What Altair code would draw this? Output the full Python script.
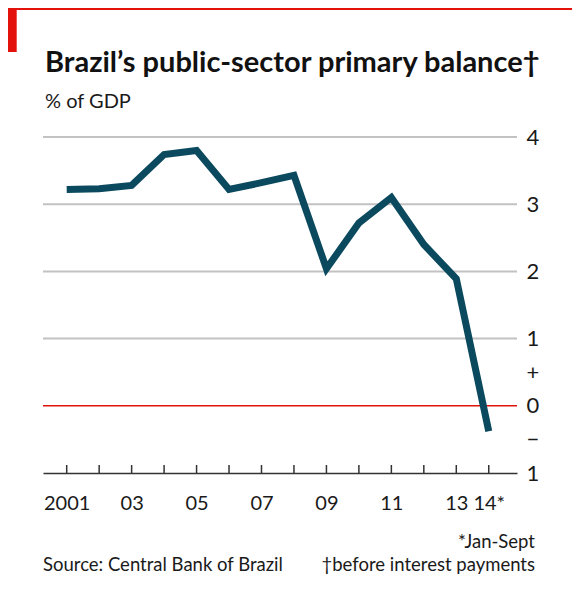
import altair as alt
import pandas as pd

# ---- data ----
years = list(range(2001, 2015))
balance = [3.22, 3.23, 3.28, 3.74, 3.80, 3.22, 3.32, 3.43, 2.04, 2.72, 3.10, 2.40, 1.89, -0.38]
grid_values = [1, 2, 3, 4]
y_label_values = [4, 3, 2, 1, 0.5, 0, -0.5, -1]
x_label_years = [2001, 2003, 2005, 2007, 2009, 2011, 2013, 2014]

title_text = "Brazil\u2019s public-sector primary balance\u2020"
subtitle_text = "% of GDP"
source_text = "Source: Central Bank of Brazil"
note1_text = "*Jan-Sept"
note2_text = "\u2020before interest payments"

df = pd.DataFrame({"year": years, "balance": balance})

W, H = 474, 336
FONT = "Lato"
RED = "#e3120b"
LINE = "#0b4a5e"

x_scale = alt.Scale(domain=[2000.27, 2014.87], nice=False, zero=False)
y_scale = alt.Scale(domain=[-1, 4], nice=False, zero=False)

x_axis = alt.Axis(
    values=x_label_years,
    labelExpr="datum.value == 2001 ? '2001' : (datum.value == 2014 ? '14*' : substring(toString(datum.value), 2, 4))",
    ticks=False,
    grid=False,
    domain=True,
    domainColor="#333333",
    domainWidth=1.6,
    labelFont=FONT,
    labelFontSize=20,
    labelColor="#1a1a1a",
    labelBaseline="alphabetic",
    labelPadding=36,
    labelFlush=False,
    labelOverlap=False,
    title=None,
)
y_axis = alt.Axis(
    orient="right",
    values=y_label_values,
    labelExpr="datum.value == 0.5 ? '+' : (datum.value == -0.5 ? '\u2212' : (datum.value == -1 ? '1' : toString(datum.value)))",
    ticks=False,
    grid=False,
    domain=False,
    labelFont=FONT,
    labelFontSize=22,
    labelColor="#1a1a1a",
    labelAlign="left",
    labelBaseline="middle",
    labelPadding=9,
    labelOverlap=False,
    labelFlush=False,
    title=None,
)

grid = alt.Chart(pd.DataFrame({"v": grid_values})).mark_rule(
    color="#c2c2c2", strokeWidth=2
).encode(y=alt.Y("v:Q", scale=y_scale, axis=y_axis))

zero = alt.Chart(pd.DataFrame({"v": [0]})).mark_rule(
    color=RED, strokeWidth=1.6
).encode(y=alt.Y("v:Q", scale=y_scale, axis=y_axis))

ticks = alt.Chart(pd.DataFrame({"year": years})).mark_rule(
    color="#333333", strokeWidth=1.5
).encode(
    x=alt.X("year:Q", scale=x_scale, axis=x_axis),
    y=alt.value(H),
    y2=alt.value(H - 8),
)

line = alt.Chart(df).mark_line(
    color=LINE, strokeWidth=7, strokeJoin="miter", strokeCap="butt"
).encode(
    x=alt.X("year:Q", scale=x_scale, axis=x_axis),
    y=alt.Y("balance:Q", scale=y_scale, axis=y_axis),
)

def txt(text, x, y, size, weight="normal", align="left", color="#1a1a1a"):
    return alt.Chart(pd.DataFrame({"t": [text]})).mark_text(
        font=FONT, fontSize=size, fontWeight=weight, align=align,
        baseline="alphabetic", color=color
    ).encode(text="t:N", x=alt.value(x), y=alt.value(y))

title = txt(title_text, 2, -65.5, 29, weight="bold", color="#111111")
subtitle = txt(subtitle_text, 2, -29.2, 20)
note1 = txt(note1_text, 492, 411, 18.5, align="right")
source = txt(source_text, 0, 433.5, 18.5)
note2 = txt(note2_text, 492, 433.5, 18.5, align="right")

red_block = alt.Chart(pd.DataFrame({"a": [0]})).mark_rect(color=RED).encode(
    x=alt.value(-35), x2=alt.value(-26.3), y=alt.value(-129), y2=alt.value(-85)
)
red_top = alt.Chart(pd.DataFrame({"a": [0]})).mark_rect(color=RED).encode(
    x=alt.value(-35), x2=alt.value(W + 55), y=alt.value(-129), y2=alt.value(-127)
)

chart = alt.layer(
    grid, zero, ticks, line, title, subtitle, note1, source, note2, red_block, red_top
).properties(
    width=W,
    height=H,
    autosize="none",
    padding={"left": 35, "top": 129, "right": 55, "bottom": 117},
    background="white",
).configure_view(stroke=None)

chart.save("out.html", embed_options={"renderer": "svg", "actions": False})
